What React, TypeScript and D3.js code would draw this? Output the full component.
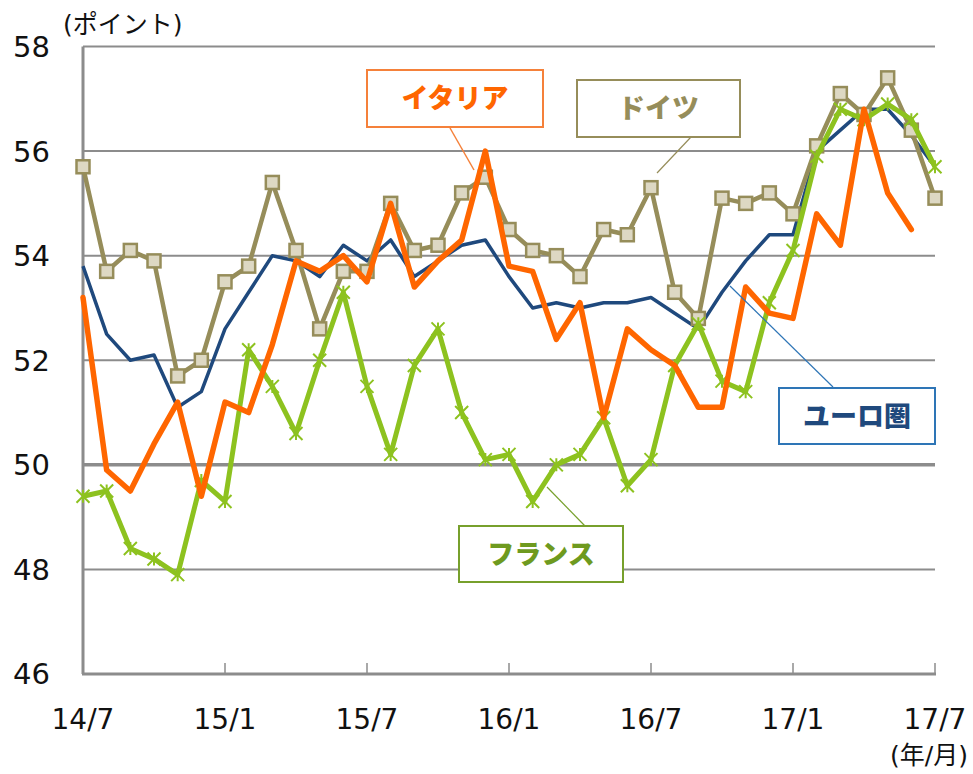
import React, { useEffect, useRef } from 'react';
import * as d3 from 'd3';

// months 14/7 .. 17/7
const months = [
  '14/7', '14/8', '14/9', '14/10', '14/11', '14/12',
  '15/1', '15/2', '15/3', '15/4', '15/5', '15/6',
  '15/7', '15/8', '15/9', '15/10', '15/11', '15/12',
  '16/1', '16/2', '16/3', '16/4', '16/5', '16/6',
  '16/7', '16/8', '16/9', '16/10', '16/11', '16/12',
  '17/1', '17/2', '17/3', '17/4', '17/5', '17/6', '17/7'
];
const tickLabels = ['14/7', '15/1', '15/7', '16/1', '16/7', '17/1', '17/7'];
const yTicks = [46, 48, 50, 52, 54, 56, 58];

const euro = [53.8, 52.5, 52.0, 52.1, 51.1, 51.4, 52.6, 53.3, 54.0, 53.9, 53.6, 54.2,
  53.9, 54.3, 53.6, 53.9, 54.2, 54.3, 53.6, 53.0, 53.1, 53.0, 53.1, 53.1,
  53.2, 52.9, 52.6, 53.3, 53.9, 54.4, 54.4, 56.0, 56.4, 56.8, 56.8, 56.3, 55.7];
const germany = [55.7, 53.7, 54.1, 53.9, 51.7, 52.0, 53.5, 53.8, 55.4, 54.1, 52.6, 53.7,
  53.7, 55.0, 54.1, 54.2, 55.2, 55.5, 54.5, 54.1, 54.0, 53.6, 54.5, 54.4,
  55.3, 53.3, 52.8, 55.1, 55.0, 55.2, 54.8, 56.1, 57.1, 56.7, 57.4, 56.4, 55.1];
const france = [49.4, 49.5, 48.4, 48.2, 47.9, 49.7, 49.3, 52.2, 51.5, 50.6, 52.0, 53.3,
  51.5, 50.2, 51.9, 52.6, 51.0, 50.1, 50.2, 49.3, 50.0, 50.2, 50.9, 49.6,
  50.1, 51.9, 52.7, 51.6, 51.4, 53.1, 54.1, 55.9, 56.8, 56.6, 56.9, 56.6, 55.7];
const italy = [53.2, 49.9, 49.5, 50.4, 51.2, 49.4, 51.2, 51.0, 52.3, 53.9, 53.7, 54.0,
  53.5, 55.0, 53.4, 53.9, 54.3, 56.0, 53.8, 53.7, 52.4, 53.1, 50.9, 52.6,
  52.2, 51.9, 51.1, 51.1, 53.4, 52.9, 52.8, 54.8, 54.2, 56.8, 55.2, 54.5];

const GRID = '#8c8c8c';
const KHAKI = '#968d5a';
const NAVY = '#1f497d';
const ORANGE = '#ff6600';
const GREEN = '#8dc21f';

const App = () => {
  const ref = useRef(null);
  useEffect(() => {
    document.body.style.margin = '0';
    d3.select(ref.current).selectAll('*').remove();
    draw(ref.current);
  }, []);
  return <svg ref={ref} width={973} height={774} style={{ display: 'block', background: '#fff' }} />;
};

const draw = (node) => {
  const svg = d3.select(node);
  const x = d3.scaleLinear().domain([0, months.length - 1]).range([83, 935]);
  const y = d3.scaleLinear().domain([46, 58]).range([674, 46.5]);
  const numFont = 'DejaVu Sans, Verdana, sans-serif';
  const jpFont = '"Noto Sans CJK JP", sans-serif';
  const mixFont = '"DejaVu Sans", "Noto Sans CJK JP", sans-serif';

  // gridlines
  svg.append('g').selectAll('line')
    .data(yTicks.filter(d => d !== 46))
    .enter().append('line')
    .attr('x1', 83).attr('x2', 935)
    .attr('y1', d => y(d)).attr('y2', d => y(d))
    .attr('stroke', GRID)
    .attr('stroke-width', d => d === 50 ? 3.5 : 2);

  // axes
  svg.append('line').attr('x1', 83).attr('x2', 83).attr('y1', y(58)).attr('y2', y(46))
    .attr('stroke', GRID).attr('stroke-width', 3);
  svg.append('line').attr('x1', 82).attr('x2', 936).attr('y1', y(46)).attr('y2', y(46))
    .attr('stroke', GRID).attr('stroke-width', 3);
  svg.append('g').selectAll('line')
    .data(tickLabels.slice(1))
    .enter().append('line')
    .attr('x1', d => x(months.indexOf(d))).attr('x2', d => x(months.indexOf(d)))
    .attr('y1', y(46)).attr('y2', y(46) - 11)
    .attr('stroke', GRID).attr('stroke-width', 1.5);

  // y labels
  svg.append('g').selectAll('text')
    .data(yTicks)
    .enter().append('text')
    .attr('x', 50).attr('y', d => y(d)).attr('dy', '0.36em')
    .attr('text-anchor', 'end')
    .attr('font-family', numFont).attr('font-size', 29).attr('fill', '#111')
    .text(d => d);

  // x labels
  svg.append('g').selectAll('text')
    .data(tickLabels)
    .enter().append('text')
    .attr('x', d => x(months.indexOf(d))).attr('y', 729)
    .attr('text-anchor', 'middle')
    .attr('font-family', numFont).attr('font-size', 28).attr('fill', '#111')
    .text(d => d);

  svg.append('text').attr('x', 63).attr('y', 33)
    .attr('font-family', mixFont).attr('font-size', 25).attr('fill', '#111')
    .text('(ポイント)');
  svg.append('text').attr('x', 968).attr('y', 764).attr('text-anchor', 'end')
    .attr('font-family', mixFont).attr('font-size', 25).attr('fill', '#111')
    .text('(年/月)');

  const line = d3.line().x((d, i) => x(i)).y(d => y(d)).curve(d3.curveLinear);

  // ユーロ圏
  svg.append('path').datum(euro).attr('d', line)
    .attr('fill', 'none').attr('stroke', NAVY).attr('stroke-width', 3.5).attr('stroke-linejoin', 'round');

  // ドイツ
  svg.append('path').datum(germany).attr('d', line)
    .attr('fill', 'none').attr('stroke', KHAKI).attr('stroke-width', 4.5).attr('stroke-linejoin', 'round');
  svg.append('g').selectAll('rect')
    .data(germany)
    .enter().append('rect')
    .attr('x', (d, i) => x(i) - 6.5).attr('y', d => y(d) - 6.5)
    .attr('width', 13).attr('height', 13)
    .attr('fill', '#ddd8c3').attr('stroke', KHAKI).attr('stroke-width', 2.5);

  // フランス
  svg.append('path').datum(france).attr('d', line)
    .attr('fill', 'none').attr('stroke', GREEN).attr('stroke-width', 5).attr('stroke-linejoin', 'round');
  svg.append('g').selectAll('path')
    .data(france)
    .enter().append('path')
    .attr('d', (d, i) => {
      const cx = x(i), cy = y(d), s = 6.5;
      return `M${cx - s},${cy - s}L${cx + s},${cy + s}M${cx - s},${cy + s}L${cx + s},${cy - s}M${cx},${cy - s}L${cx},${cy + s}`;
    })
    .attr('stroke', GREEN).attr('stroke-width', 2).attr('fill', 'none');

  // イタリア
  svg.append('path').datum(italy).attr('d', line)
    .attr('fill', 'none').attr('stroke', ORANGE).attr('stroke-width', 5.5)
    .attr('stroke-linejoin', 'round').attr('stroke-linecap', 'round');

  // callouts
  const callouts = [
    { text: 'イタリア', box: [367, 70, 176, 57], lead: [450, 128, 474, 170], border: '#f5813a', color: ORANGE, lw: 1.5 },
    { text: 'ドイツ', box: [577, 80, 163, 57], lead: [691, 137, 657, 173], border: KHAKI, color: KHAKI, lw: 1.2 },
    { text: 'ユーロ圏', box: [779, 388, 156, 56], lead: [833, 387, 730, 286], border: '#2e75b6', color: NAVY, lw: 1.2 },
    { text: 'フランス', box: [459, 526, 164, 56], lead: [585, 526, 547, 487], border: '#77a02c', color: '#6e9a1f', lw: 1.2 }
  ];
  callouts.forEach(c => {
    svg.append('line')
      .attr('x1', c.lead[0]).attr('y1', c.lead[1]).attr('x2', c.lead[2]).attr('y2', c.lead[3])
      .attr('stroke', c.border).attr('stroke-width', c.lw);
    svg.append('rect')
      .attr('x', c.box[0]).attr('y', c.box[1]).attr('width', c.box[2]).attr('height', c.box[3])
      .attr('fill', '#fff').attr('stroke', c.border).attr('stroke-width', 2);
    svg.append('text')
      .attr('x', c.box[0] + c.box[2] / 2).attr('y', c.box[1] + c.box[3] / 2).attr('dy', '0.36em')
      .attr('text-anchor', 'middle')
      .attr('font-family', jpFont).attr('font-weight', 900).attr('font-size', 27)
      .attr('fill', c.color)
      .text(c.text);
  });
};

export default App;
